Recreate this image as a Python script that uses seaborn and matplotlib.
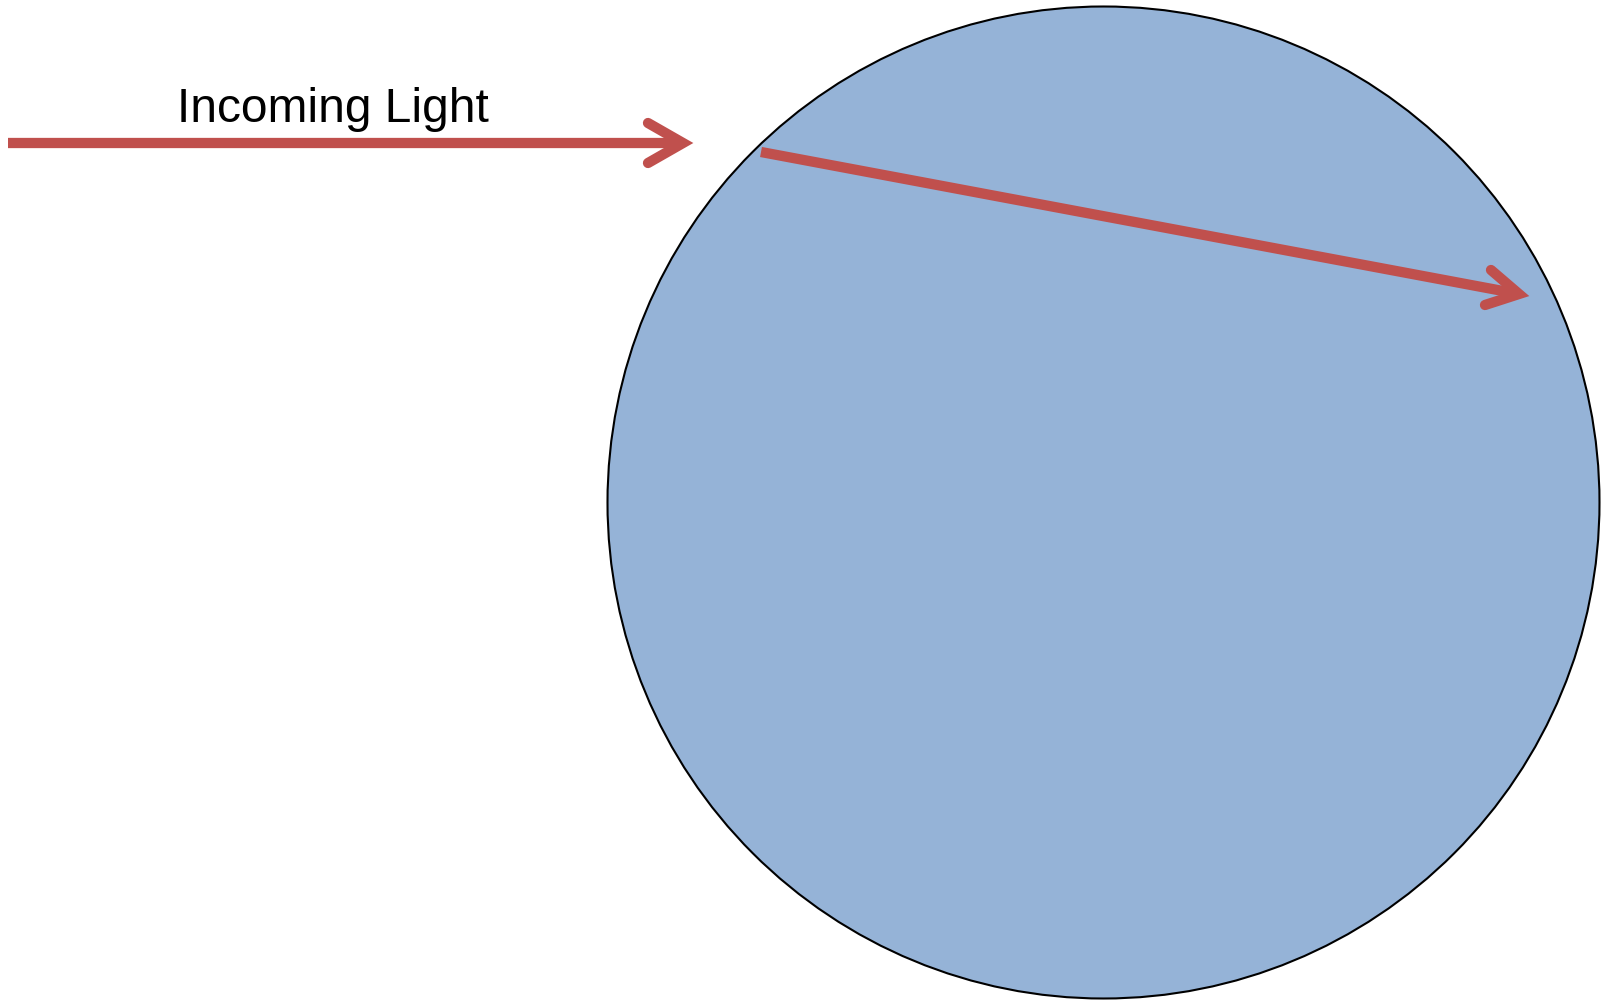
import numpy as np
import pandas as pd
import seaborn as sns
import matplotlib.pyplot as plt
from matplotlib.patches import Ellipse

# canvas in pixels (y grows downward, like the reference)
width_px = [0, 1601]
height_px = [1000, 0]

# the sphere
circle_center = [1103.5, 502.5]
circle_diameter = [992, 992]

# incoming ray: shaft start, arrow vertex, and the two chevron arm ends
ray_in_x = [8, 683]
ray_in_y = [143, 143]
head_in_x = [648, 683, 648]
head_in_y = [123, 143, 163]

# refracted ray inside the sphere
ray_out_x = [761, 1519]
ray_out_y = [152, 294]
head_out_x = [1491, 1519, 1485]
head_out_y = [270, 294, 305]

label = "Incoming Light"
label_pos = [333, 122]

blue = "#95B3D7"
red = "#C0504D"

sns.set_theme(style="white")
plt.rcParams['font.family'] = ['Liberation Sans', 'DejaVu Sans']

fig = plt.figure(figsize=(16.01, 10), dpi=100)
ax = fig.add_axes([0, 0, 1, 1])
ax.set_xlim(width_px)
ax.set_ylim(height_px)
ax.axis('off')

ax.add_patch(Ellipse(circle_center, circle_diameter[0], circle_diameter[1],
                     facecolor=blue, edgecolor='black', linewidth=1.5))

rays = pd.DataFrame({'x': ray_in_x + ray_out_x, 'y': ray_in_y + ray_out_y,
                     'ray': ['in', 'in', 'out', 'out']})
sns.lineplot(data=rays, x='x', y='y', units='ray', estimator=None, sort=False,
             color=red, linewidth=7.4, ax=ax, legend=False,
             solid_capstyle='butt')

for hx, hy in [(head_in_x, head_in_y), (head_out_x, head_out_y)]:
    ax.plot(hx, hy, color=red, linewidth=7.4,
            solid_capstyle='round', solid_joinstyle='miter')

ax.text(label_pos[0], label_pos[1], label, ha='center', va='baseline',
        fontsize=34.5, color='black')

ax.set_xlabel('')
ax.set_ylabel('')
fig.savefig('out.png', dpi=100)
